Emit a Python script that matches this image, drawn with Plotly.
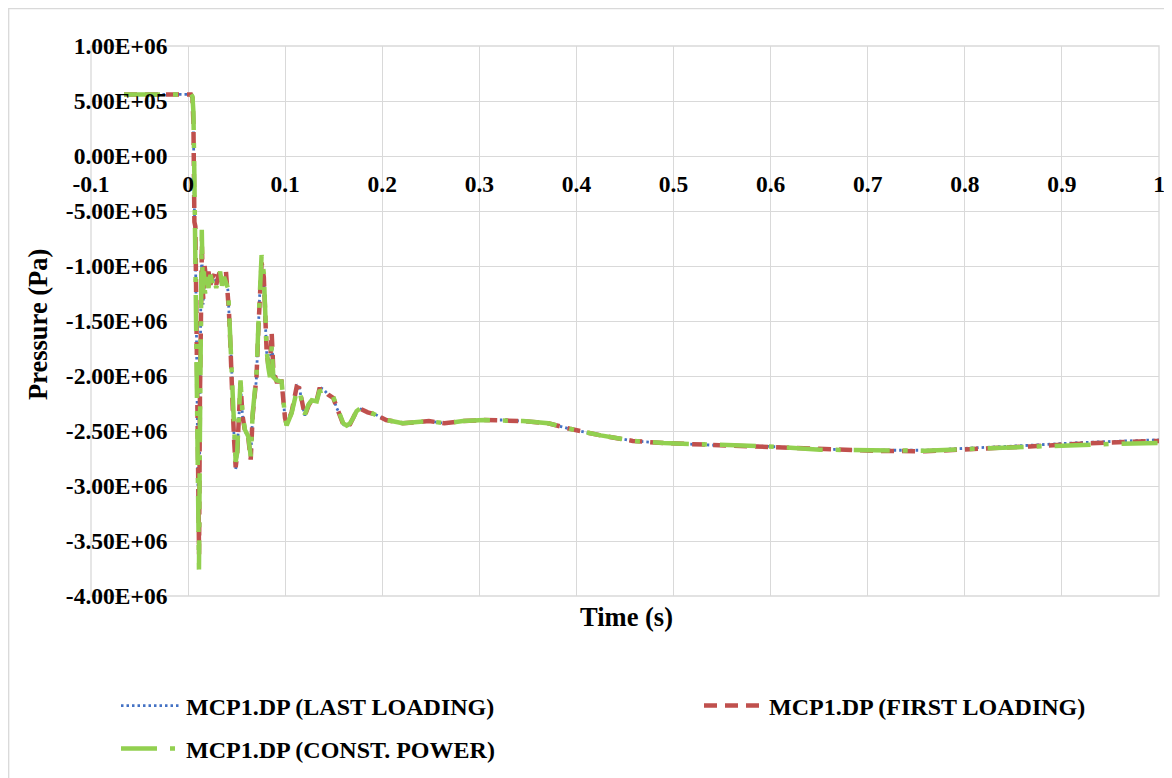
import plotly.graph_objects as go

# ---------------- data (time in s, pressure in Pa) ----------------
t_const = [-0.066, -0.03, 0.0, 0.003, 0.0045, 0.0055, 0.0065, 0.0075, 0.0085, 0.0095,
           0.0105, 0.0112, 0.0122, 0.0132, 0.0141, 0.0152, 0.0162, 0.0175, 0.019, 0.021,
           0.023, 0.025, 0.027, 0.029, 0.031, 0.033, 0.035, 0.037, 0.039, 0.041,
           0.042, 0.0435, 0.045, 0.046, 0.0475, 0.049, 0.0505, 0.052, 0.054, 0.056,
           0.0586, 0.062, 0.0645, 0.0665, 0.069, 0.0705, 0.0725, 0.074, 0.0757, 0.078,
           0.079, 0.0809, 0.0826, 0.0843, 0.0861, 0.0878, 0.0912, 0.0963, 0.0998, 0.1015,
           0.1066, 0.110, 0.1118, 0.1145, 0.1186, 0.1203, 0.124, 0.1273, 0.1325, 0.1352,
           0.1393, 0.1444, 0.1495, 0.153, 0.1564, 0.1598, 0.1633, 0.1667, 0.1701, 0.1735,
           0.178, 0.185, 0.193, 0.204, 0.221, 0.235, 0.248, 0.264, 0.283, 0.305,
           0.328, 0.345, 0.371, 0.393, 0.425, 0.458, 0.49, 0.544, 0.598, 0.651,
           0.705, 0.759, 0.813, 0.867, 0.92, 0.96, 1.0]
p_const = [5.6e5, 5.6e5, 5.6e5, 5.6e5, 5.4e5, 4.0e5, -2.0e5, -9.5e5, -1.25e6, -2.4e6,
           -3.3e6, -3.76e6, -2.5e6, -1.2e6, -6.7e5, -1.25e6, -1.05e6, -1.25e6, -1.10e6, -1.20e6,
           -1.08e6, -1.15e6, -1.10e6, -1.20e6, -1.12e6, -1.05e6, -1.18e6, -1.10e6, -1.15e6, -1.20e6,
           -1.37e6, -1.67e6, -1.92e6, -2.28e6, -2.58e6, -2.78e6, -2.70e6, -2.46e6, -2.04e6, -2.34e6,
           -2.49e6, -2.55e6, -2.73e6, -2.34e6, -2.16e6, -1.98e6, -1.52e6, -1.16e6, -0.90e6, -1.07e6,
           -1.37e6, -1.76e6, -1.92e6, -2.01e6, -1.73e6, -2.01e6, -2.04e6, -2.05e6, -2.37e6, -2.45e6,
           -2.34e6, -2.22e6, -2.14e6, -2.13e6, -2.31e6, -2.35e6, -2.26e6, -2.22e6, -2.23e6, -2.14e6,
           -2.13e6, -2.17e6, -2.19e6, -2.28e6, -2.34e6, -2.43e6, -2.45e6, -2.43e6, -2.38e6, -2.32e6,
           -2.29e6, -2.32e6, -2.35e6, -2.40e6, -2.43e6, -2.42e6, -2.41e6, -2.43e6, -2.41e6, -2.40e6,
           -2.40e6, -2.41e6, -2.43e6, -2.48e6, -2.54e6, -2.59e6, -2.61e6, -2.63e6, -2.64e6, -2.67e6,
           -2.68e6, -2.68e6, -2.66e6, -2.64e6, -2.62e6, -2.615e6, -2.61e6]

t_first = [-0.066, -0.03, 0.0, 0.003, 0.0045, 0.0055, 0.0065, 0.0075, 0.0085, 0.0095,
           0.0105, 0.0113, 0.0122, 0.0132, 0.0142, 0.0155, 0.017, 0.019, 0.021, 0.023,
           0.025, 0.027, 0.029, 0.031, 0.033, 0.035, 0.037, 0.039, 0.041, 0.042,
           0.0435, 0.045, 0.046, 0.0475, 0.049, 0.0505, 0.052, 0.054, 0.056, 0.0586,
           0.062, 0.0645, 0.0665, 0.069, 0.0705, 0.0725, 0.074, 0.0757, 0.078, 0.079,
           0.0809, 0.0826, 0.0843, 0.0861, 0.0878, 0.0912, 0.0963, 0.0998, 0.1015, 0.1066,
           0.110, 0.1118, 0.1145, 0.1186, 0.1203, 0.124, 0.1273, 0.1325, 0.1352, 0.1393,
           0.1444, 0.1495, 0.153, 0.1564, 0.1598, 0.1633, 0.1667, 0.1701, 0.1735, 0.178,
           0.185, 0.193, 0.204, 0.221, 0.235, 0.248, 0.264, 0.283, 0.305, 0.328,
           0.345, 0.371, 0.393, 0.425, 0.458, 0.49, 0.544, 0.598, 0.651, 0.705,
           0.759, 0.813, 0.867, 0.92, 0.96, 1.0]
p_first = [5.6e5, 5.6e5, 5.6e5, 5.6e5, 5.3e5, 3.0e5, -6.0e5, -6.4e5, -1.4e6, -2.6e6,
           -3.4e6, -3.62e6, -2.2e6, -1.1e6, -8.0e5, -1.30e6, -1.00e6, -1.15e6, -1.05e6, -1.17e6,
           -1.10e6, -1.08e6, -1.17e6, -1.10e6, -1.04e6, -1.16e6, -1.08e6, -1.05e6, -1.22e6, -1.40e6,
           -1.70e6, -1.95e6, -2.30e6, -2.60e6, -2.83e6, -2.72e6, -2.42e6, -2.06e6, -2.36e6, -2.50e6,
           -2.56e6, -2.76e6, -2.36e6, -2.18e6, -2.00e6, -1.55e6, -1.20e6, -0.97e6, -1.10e6, -1.40e6,
           -1.78e6, -1.90e6, -1.90e6, -1.61e6, -1.95e6, -2.05e6, -2.05e6, -2.38e6, -2.44e6, -2.33e6,
           -2.20e6, -2.10e6, -2.11e6, -2.30e6, -2.36e6, -2.27e6, -2.22e6, -2.22e6, -2.12e6, -2.12e6,
           -2.17e6, -2.20e6, -2.29e6, -2.35e6, -2.44e6, -2.46e6, -2.44e6, -2.38e6, -2.32e6, -2.30e6,
           -2.33e6, -2.35e6, -2.40e6, -2.43e6, -2.42e6, -2.41e6, -2.43e6, -2.41e6, -2.40e6, -2.40e6,
           -2.41e6, -2.43e6, -2.48e6, -2.54e6, -2.59e6, -2.61e6, -2.63e6, -2.64e6, -2.665e6, -2.68e6,
           -2.685e6, -2.665e6, -2.64e6, -2.615e6, -2.60e6, -2.59e6]

t_last = [-0.066, -0.03, 0.0, 0.003, 0.0045, 0.0055, 0.0065, 0.0075, 0.0085, 0.0095,
          0.0105, 0.0112, 0.0122, 0.0132, 0.0142, 0.0155, 0.017, 0.019, 0.021, 0.023,
          0.025, 0.027, 0.029, 0.031, 0.033, 0.035, 0.037, 0.039, 0.041, 0.042,
          0.0435, 0.045, 0.046, 0.0475, 0.049, 0.0505, 0.052, 0.054, 0.056, 0.0586,
          0.062, 0.0645, 0.0665, 0.069, 0.0705, 0.0725, 0.074, 0.0757, 0.078, 0.079,
          0.0809, 0.0826, 0.0843, 0.0861, 0.0878, 0.0912, 0.0963, 0.0998, 0.1015, 0.1066,
          0.110, 0.1118, 0.1145, 0.1186, 0.1203, 0.124, 0.1273, 0.1325, 0.1352, 0.1393,
          0.1444, 0.1495, 0.153, 0.1564, 0.1598, 0.1633, 0.1667, 0.1701, 0.1735, 0.178,
          0.185, 0.193, 0.204, 0.221, 0.235, 0.248, 0.264, 0.283, 0.305, 0.328,
          0.345, 0.371, 0.393, 0.425, 0.458, 0.49, 0.544, 0.598, 0.651, 0.705,
          0.759, 0.813, 0.867, 0.92, 0.96, 1.0]
p_last = [5.6e5, 5.6e5, 5.6e5, 5.6e5, 5.3e5, 2.5e5, -5.0e5, -8.5e5, -1.5e6, -2.7e6,
          -3.3e6, -3.52e6, -2.3e6, -1.2e6, -9.0e5, -1.35e6, -1.05e6, -1.15e6, -1.08e6, -1.15e6,
          -1.10e6, -1.10e6, -1.15e6, -1.12e6, -1.06e6, -1.15e6, -1.10e6, -1.10e6, -1.22e6, -1.40e6,
          -1.68e6, -1.95e6, -2.30e6, -2.60e6, -2.85e6, -2.72e6, -2.42e6, -2.08e6, -2.36e6, -2.50e6,
          -2.56e6, -2.74e6, -2.36e6, -2.18e6, -2.00e6, -1.55e6, -1.20e6, -1.03e6, -1.10e6, -1.40e6,
          -1.78e6, -1.90e6, -1.92e6, -1.63e6, -1.96e6, -2.05e6, -2.06e6, -2.38e6, -2.44e6, -2.33e6,
          -2.20e6, -2.08e6, -2.10e6, -2.30e6, -2.36e6, -2.27e6, -2.22e6, -2.22e6, -2.10e6, -2.12e6,
          -2.17e6, -2.20e6, -2.29e6, -2.35e6, -2.44e6, -2.46e6, -2.44e6, -2.38e6, -2.32e6, -2.30e6,
          -2.33e6, -2.35e6, -2.40e6, -2.43e6, -2.42e6, -2.41e6, -2.43e6, -2.41e6, -2.40e6, -2.40e6,
          -2.41e6, -2.43e6, -2.48e6, -2.54e6, -2.59e6, -2.61e6, -2.63e6, -2.64e6, -2.665e6, -2.675e6,
          -2.675e6, -2.655e6, -2.63e6, -2.605e6, -2.59e6, -2.58e6]

names = ["MCP1.DP (LAST LOADING)", "MCP1.DP (FIRST LOADING)", "MCP1.DP (CONST. POWER)"]

x_ticks = [-0.1, 0, 0.1, 0.2, 0.3, 0.4, 0.5, 0.6, 0.7, 0.8, 0.9, 1]
x_tick_text = ["-0.1", "0", "0.1", "0.2", "0.3", "0.4", "0.5", "0.6", "0.7", "0.8", "0.9", "1"]
y_ticks = [1e6, 5e5, 0, -5e5, -1e6, -1.5e6, -2e6, -2.5e6, -3e6, -3.5e6, -4e6]
y_tick_text = ["1.00E+06", "5.00E+05", "0.00E+00", "-5.00E+05", "-1.00E+06", "-1.50E+06",
               "-2.00E+06", "-2.50E+06", "-3.00E+06", "-3.50E+06", "-4.00E+06"]

FONT = "Liberation Serif, Times New Roman, serif"
GRID = "#D9D9D9"

fig = go.Figure()
fig.add_trace(go.Scatter(x=t_last, y=p_last, mode="lines", name=names[0],
                         line=dict(color="#4472C4", width=2.8, dash="2.5px,3px"),
                         legend="legend"))
fig.add_trace(go.Scatter(x=t_first, y=p_first, mode="lines", name=names[1],
                         line=dict(color="#C0504D", width=4.5, dash="13px,8px"),
                         legend="legend2"))
fig.add_trace(go.Scatter(x=t_const, y=p_const, mode="lines", name=names[2],
                         line=dict(color="#92D050", width=4.5, dash="36px,13px,5px,13px"),
                         legend="legend3"))

# page body has an 8px default margin: work in screen pixels and shift
OFF = 8
SW, SH = 1172, 778
W, H = SW - OFF, SH - OFF
L, R, T, B = 91 - OFF, 13, 46 - OFF, 182
pw, ph = W - L - R, H - T - B

def px_x(px):
    return (px - OFF - L) / pw

def px_y(py):
    return (H - B - (py - OFF)) / ph

leg_font = dict(family=FONT, size=24, color="black", weight="bold")
tick_font = dict(family=FONT, size=23.5, color="black", weight="bold")

def leg(xpx, ypx):
    return dict(orientation="h", x=px_x(xpx), y=px_y(ypx), xanchor="left", yanchor="middle",
                itemwidth=60, font=leg_font, bgcolor="rgba(0,0,0,0)", borderwidth=0)

fig.update_layout(
    width=W, height=H,
    margin=dict(l=L, r=R, t=T, b=B, autoexpand=False),
    paper_bgcolor="white", plot_bgcolor="white",
    font=dict(family=FONT, color="black"),
    xaxis=dict(range=[-0.1, 1], tickvals=x_ticks, ticktext=x_tick_text,
               showgrid=True, gridcolor=GRID, gridwidth=1.3,
               zeroline=False, showline=False, automargin=False,
               anchor="free", position=0.8,
               ticks="outside", ticklen=7, tickcolor="rgba(0,0,0,0)",
               tickfont=tick_font),
    yaxis=dict(range=[-4e6, 1e6], tickvals=y_ticks, ticktext=y_tick_text,
               showgrid=True, gridcolor=GRID, gridwidth=1.3,
               zeroline=False, showline=False, automargin=False,
               anchor="free", position=0.1 / 1.1,
               ticks="outside", ticklen=16, tickcolor="rgba(0,0,0,0)",
               tickfont=tick_font),
    legend=leg(116, 706),
    legend2=leg(699, 706),
    legend3=leg(116, 749),
    showlegend=True,
    shapes=[
        dict(type="rect", xref="paper", yref="paper",
             x0=px_x(8.7), x1=px_x(1190), y0=px_y(800), y1=px_y(8.7),
             line=dict(color=GRID, width=1.3), layer="below"),
        dict(type="rect", xref="paper", yref="paper", x0=0, x1=1, y0=0, y1=1,
             line=dict(color=GRID, width=1.3), layer="below"),
    ],
    annotations=[
        dict(text="<b>Time (s)</b>", xref="paper", yref="paper", x=px_x(626), y=px_y(617),
             xanchor="center", yanchor="middle", showarrow=False,
             font=dict(family=FONT, size=26.5, color="black")),
        dict(text="<b>Pressure (Pa)</b>", xref="paper", yref="paper", x=px_x(38), y=px_y(325),
             xanchor="center", yanchor="middle", showarrow=False, textangle=-90,
             font=dict(family=FONT, size=26.5, color="black")),
    ],
)

fig.write_html("out.html")
